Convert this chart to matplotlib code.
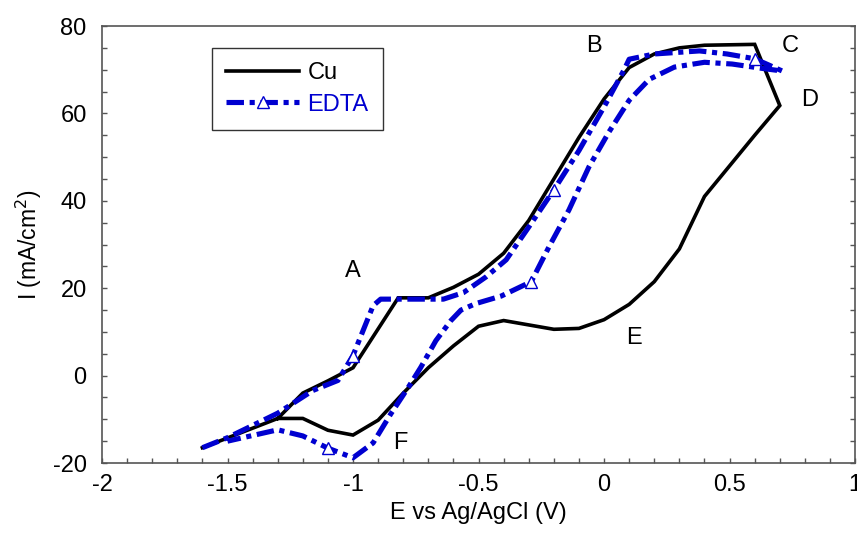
import matplotlib
matplotlib.use('Agg')
import matplotlib.pyplot as plt
from matplotlib.ticker import MultipleLocator

# Cu voltammogram (closed loop)
cu_E = [-1.6, -1.3, -1.2, -1.1, -1.0, -0.9, -0.8, -0.7, -0.6, -0.5, -0.4, -0.3, -0.2, -0.1, 0.0,
        0.1, 0.2, 0.3, 0.4, 0.5, 0.6, 0.7, 0.6, 0.4, 0.3, 0.2, 0.1, 0.0, -0.1, -0.2, -0.3, -0.4,
        -0.5, -0.6, -0.7, -0.82, -1.0, -1.1, -1.2, -1.3]
cu_I = [-16.5, -9.8, -9.8, -12.5, -13.6, -10.2, -4.0, 1.8, 6.8, 11.3, 12.6, 11.6, 10.6, 10.8, 12.8,
        16.3, 21.5, 29.0, 41.0, 48.0, 55.0, 61.8, 75.8, 75.6, 75.0, 73.6, 70.5, 63.3, 54.5, 45.0, 35.5, 28.0,
        23.2, 20.2, 17.8, 17.8, 1.8, -1.2, -4.0, -9.8]

# EDTA voltammogram
ed_E = [-1.6, -1.5, -1.3, -1.16, -1.06, -1.0, -0.92, -0.89, -0.64, -0.56, -0.47, -0.39, -0.3, -0.2,
        -0.1, 0.0, 0.08, 0.1, 0.2, 0.38, 0.49, 0.6, 0.71, 0.63, 0.51, 0.4, 0.28, 0.18, 0.1, 0.02,
        -0.06, -0.14, -0.22, -0.29, -0.41, -0.51, -0.57, -0.61, -0.67, -0.73, -0.78, -0.85, -0.92,
        -1.0, -1.1, -1.2, -1.3, -1.5]
ed_I = [-16.5, -14.2, -8.6, -3.4, -1.1, 4.6, 16.0, 17.5, 17.5, 19.0, 22.6, 26.5, 34.0, 42.5,
        51.5, 61.5, 70.0, 72.4, 73.6, 74.3, 73.6, 72.5, 69.7, 70.3, 71.3, 71.7, 70.6, 67.8, 63.0, 55.8,
        47.8, 37.9, 29.4, 21.5, 18.2, 16.5, 15.0, 12.6, 8.0, 1.9, -2.7, -8.8, -15.4,
        -18.8, -16.6, -13.8, -12.4, -15.0]
ed_marks = [5, 13, 21, 33, 44]

# point labels
lab_txt = ['A', 'B', 'C', 'D', 'E', 'F']
lab_E = [-1.0, -0.04, 0.74, 0.82, 0.12, -0.81]
lab_I = [24.0, 75.5, 75.5, 63.0, 8.5, -15.5]

plt.rcParams['font.family'] = ['Liberation Sans', 'DejaVu Sans']
blue = '#0000D0'
grey = '#555555'
fs = 17

fig = plt.figure(figsize=(8.57, 5.33), dpi=100)
ax = fig.add_axes([0.119, 0.1313, 0.8788, 0.8199])

ax.plot(cu_E, cu_I, color='black', lw=2.6, solid_joinstyle='miter', label='Cu')
ax.plot(ed_E, ed_I, color=blue, lw=3.7, ls=(0, (3.4, 1.1, 1.0, 1.1)),
        marker='^', markevery=ed_marks, ms=8.5, mfc='white', mec=blue, mew=1.0, label='EDTA')

for t, x, y in zip(lab_txt, lab_E, lab_I):
    ax.text(x, y, t, fontsize=fs, ha='center', va='center')

ax.set_xlim(-2, 1)
ax.set_ylim(-20, 80)
ax.xaxis.set_minor_locator(MultipleLocator(0.1))
ax.yaxis.set_minor_locator(MultipleLocator(5))
ax.set_xticks([-2, -1.5, -1, -0.5, 0, 0.5, 1])
ax.set_xticklabels(['-2', '-1.5', '-1', '-0.5', '0', '0.5', '1'])
ax.set_yticks([-20, 0, 20, 40, 60, 80])
ax.set_yticklabels(['-20', '0', '20', '40', '60', '80'])
ax.tick_params(which='both', direction='in', length=3.5, width=1, color=grey,
               left=True, right=True, top=False, bottom=True, labelsize=fs)
ax.tick_params(axis='x', pad=8)
ax.tick_params(axis='y', pad=11)
for s in ax.spines.values():
    s.set_color(grey)
    s.set_linewidth(1.2)

ax.set_xlabel('E vs Ag/AgCl (V)', fontsize=fs, labelpad=4)
ax.set_ylabel('I (mA/cm$^2$)', fontsize=16.5, labelpad=6)

leg = ax.legend(loc='upper left', bbox_to_anchor=(0.146, 0.9497), borderaxespad=0, fontsize=fs,
                fancybox=False, edgecolor='#333333', handlelength=3.1, handletextpad=0.35,
                borderpad=0.6, labelspacing=0.4, framealpha=1)
leg.get_frame().set_linewidth(1.0)
leg.get_texts()[1].set_color(blue)

fig.savefig('out.png', dpi=100)
